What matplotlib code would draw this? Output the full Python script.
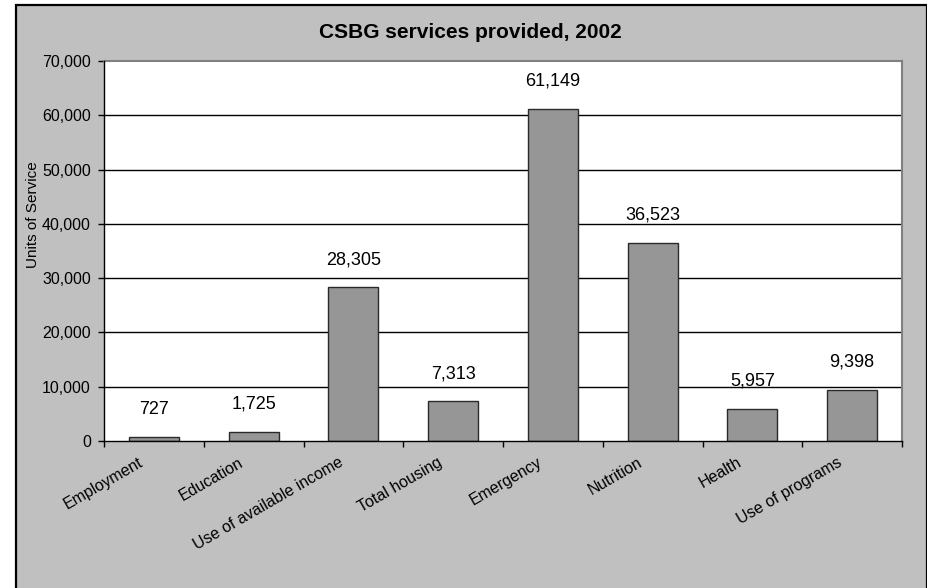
import matplotlib
matplotlib.use("Agg")
import matplotlib.pyplot as plt
from matplotlib.patches import Rectangle
from matplotlib.ticker import FuncFormatter, FixedLocator
from matplotlib.transforms import ScaledTranslation

plt.rcParams["font.family"] = ["Liberation Sans", "DejaVu Sans"]

categories = ["Employment", "Education", "Use of available income", "Total housing",
              "Emergency", "Nutrition", "Health", "Use of programs"]
units = [727, 1725, 28305, 7313, 61149, 36523, 5957, 9398]
y_ticks = [0, 10000, 20000, 30000, 40000, 50000, 60000, 70000]

W, H = 928, 588
fig = plt.figure(figsize=(W / 100, H / 100), dpi=100, facecolor="white")

# grey chart frame with a black outline
frame = Rectangle((16 / W, -0.05), (927 - 16) / W, 1.05 - 5 / H,
                  transform=fig.transFigure, facecolor="#c0c0c0",
                  edgecolor="black", linewidth=1.6, zorder=-10)
fig.patches.append(frame)

left, right, top, bottom = 104, 902, 61, 441
ax = fig.add_axes([left / W, 1 - bottom / H, (right - left) / W, (bottom - top) / H])
ax.set_zorder(5)
ax.set_facecolor("white")

x = list(range(len(categories)))
ax.bar(x, units, width=0.5, color="#969696", edgecolor="#2a2a2a", linewidth=1.0, zorder=3)

ax.set_xlim(-0.5, len(categories) - 0.5)
ax.set_ylim(0, 70000)
ax.set_yticks(y_ticks)
ax.yaxis.set_major_formatter(FuncFormatter(lambda v, p: f"{int(v):,}"))
ax.tick_params(axis="y", direction="out", length=4, width=1, pad=5.5,
               labelsize=11.5, colors="black")

for v in y_ticks[1:-1]:
    ax.axhline(v, color="black", linewidth=1.0, zorder=1)

# category boundaries carry the tick marks, centres carry the labels
ax.xaxis.set_minor_locator(FixedLocator([i + 0.5 for i in range(-1, len(categories))]))
ax.set_xticks(x)
ax.set_xticklabels(categories, rotation=30, ha="right", va="top", fontsize=11.5)
ax.tick_params(axis="x", which="major", length=0, pad=10)
ax.tick_params(axis="x", which="minor", direction="out", length=4, width=1)
offset = ScaledTranslation(-8 / 100, 0, fig.dpi_scale_trans)
for lbl in ax.get_xticklabels():
    lbl.set_transform(lbl.get_transform() + offset)

for side in ("top", "right"):
    ax.spines[side].set_color("#808080")
    ax.spines[side].set_linewidth(1.5)
for side in ("left", "bottom"):
    ax.spines[side].set_color("black")
    ax.spines[side].set_linewidth(1.0)
    ax.spines[side].set_zorder(4)

for xi, v in zip(x, units):
    ax.annotate(f"{v:,}", (xi, v), xytext=(0, 20), textcoords="offset points",
                ha="center", va="center", fontsize=13, zorder=5)

fig.text(470 / W, 1 - 33 / H, "CSBG services provided, 2002", ha="center",
         va="center", fontsize=15, fontweight="bold")
fig.text(33 / W, 1 - 215 / H, "Units of Service", rotation=90, ha="center",
         va="center", fontsize=11)

fig.savefig("out.png", dpi=100, facecolor=fig.get_facecolor())
